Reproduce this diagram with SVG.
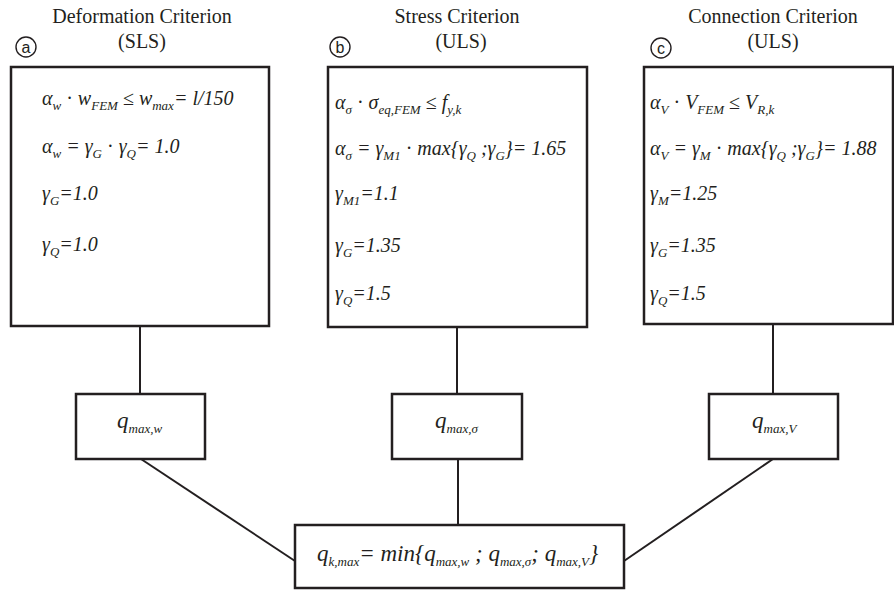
<svg xmlns="http://www.w3.org/2000/svg" width="894" height="590" viewBox="0 0 894 590">
<style>
.bg{fill:#fff}
.box{fill:#fff;stroke:#231f20;stroke-width:2.5}
.sbox{fill:#fff;stroke:#231f20;stroke-width:2.5}
.con{stroke:#231f20;stroke-width:2;fill:none}
.hdr{font-family:"Liberation Serif","Times New Roman",serif;font-size:20px;fill:#231f20;text-anchor:middle}
.eq{font-family:"Liberation Serif","Times New Roman",serif;font-size:20px;font-style:italic;fill:#231f20}
.q{font-family:"Liberation Serif","Times New Roman",serif;font-size:23px;font-style:italic;fill:#231f20}
.s{font-size:13px}
.qs{font-size:13px}
.up{font-style:normal}
.circ{fill:#fff;stroke:#231f20;stroke-width:1.4}
.cl{font-family:"Liberation Sans",Arial,sans-serif;font-size:16px;fill:#231f20;text-anchor:middle}
</style>
<rect class="bg" x="0" y="0" width="894" height="590"/>

<g id="connectors">
<line class="con" x1="140" y1="326" x2="140" y2="394"/>
<line class="con" x1="457" y1="327" x2="457" y2="394"/>
<line class="con" x1="773" y1="324" x2="773" y2="394"/>
<line class="con" x1="141" y1="459" x2="295" y2="561"/>
<line class="con" x1="458" y1="459" x2="458" y2="525"/>
<line class="con" x1="773" y1="459" x2="624" y2="561"/>
</g>

<g id="header-a">
<text class="hdr" x="142" y="23">Deformation Criterion</text>
<text class="hdr" x="142" y="48">(SLS)</text>
<circle class="circ" cx="26" cy="47" r="10"/>
<text class="cl" x="26" y="52.5">a</text>
</g>
<g id="header-b">
<text class="hdr" x="457" y="23">Stress Criterion</text>
<text class="hdr" x="461" y="48">(ULS)</text>
<circle class="circ" cx="340" cy="47" r="10"/>
<text class="cl" x="340" y="52.5">b</text>
</g>
<g id="header-c">
<text class="hdr" x="773" y="23">Connection Criterion</text>
<text class="hdr" x="773" y="48">(ULS)</text>
<circle class="circ" cx="661" cy="48" r="10"/>
<text class="cl" x="661" y="53.5">c</text>
</g>

<g id="box-a">
<rect class="box" x="11" y="67" width="258" height="259"/>
<text class="eq" x="42" y="105">α<tspan class="s" dy="5">w</tspan><tspan class="up" dy="-5"> · </tspan>w<tspan class="s" dy="5">FEM</tspan><tspan class="up" dy="-5"> ≤ </tspan>w<tspan class="s" dy="5">max</tspan><tspan dy="-5">= l/150</tspan></text>
<text class="eq" x="42" y="153">α<tspan class="s" dy="5">w</tspan><tspan dy="-5"> = γ</tspan><tspan class="s" dy="5">G</tspan><tspan class="up" dy="-5"> · </tspan>γ<tspan class="s" dy="5">Q</tspan><tspan dy="-5">= 1.0</tspan></text>
<text class="eq" x="42" y="200">γ<tspan class="s" dy="5">G</tspan><tspan dy="-5">=1.0</tspan></text>
<text class="eq" x="42" y="251">γ<tspan class="s" dy="5">Q</tspan><tspan dy="-5">=1.0</tspan></text>
</g>

<g id="box-b">
<rect class="box" x="328" y="67" width="259" height="260"/>
<text class="eq" x="335" y="109">α<tspan class="s" dy="5">σ</tspan><tspan class="up" dy="-5"> · </tspan>σ<tspan class="s" dy="5">eq,FEM</tspan><tspan class="up" dy="-5"> ≤ </tspan>f<tspan class="s" dy="5">y,k</tspan></text>
<text class="eq" x="335" y="155">α<tspan class="s" dy="5">σ</tspan><tspan dy="-5"> = γ</tspan><tspan class="s" dy="5">M1</tspan><tspan class="up" dy="-5"> · </tspan>max{γ<tspan class="s" dy="5">Q</tspan><tspan dy="-5"> ;γ</tspan><tspan class="s" dy="5">G</tspan><tspan dy="-5">}= 1.65</tspan></text>
<text class="eq" x="335" y="200">γ<tspan class="s" dy="5">M1</tspan><tspan dy="-5">=1.1</tspan></text>
<text class="eq" x="335" y="252">γ<tspan class="s" dy="5">G</tspan><tspan dy="-5">=1.35</tspan></text>
<text class="eq" x="335" y="300">γ<tspan class="s" dy="5">Q</tspan><tspan dy="-5">=1.5</tspan></text>
</g>

<g id="box-c">
<rect class="box" x="644" y="67" width="249" height="257"/>
<text class="eq" x="650" y="109">α<tspan class="s" dy="5">V</tspan><tspan class="up" dy="-5"> · </tspan>V<tspan class="s" dy="5">FEM</tspan><tspan class="up" dy="-5"> ≤ </tspan>V<tspan class="s" dy="5">R,k</tspan></text>
<text class="eq" x="650" y="155">α<tspan class="s" dy="5">V</tspan><tspan dy="-5"> = γ</tspan><tspan class="s" dy="5">M</tspan><tspan class="up" dy="-5"> · </tspan>max{γ<tspan class="s" dy="5">Q</tspan><tspan dy="-5"> ;γ</tspan><tspan class="s" dy="5">G</tspan><tspan dy="-5">}= 1.88</tspan></text>
<text class="eq" x="650" y="200">γ<tspan class="s" dy="5">M</tspan><tspan dy="-5">=1.25</tspan></text>
<text class="eq" x="650" y="252">γ<tspan class="s" dy="5">G</tspan><tspan dy="-5">=1.35</tspan></text>
<text class="eq" x="650" y="300">γ<tspan class="s" dy="5">Q</tspan><tspan dy="-5">=1.5</tspan></text>
</g>

<g id="node-qw">
<rect class="sbox" x="76" y="394" width="129" height="65"/>
<text class="q" x="117" y="428">q<tspan class="qs" dy="5">max,w</tspan></text>
</g>
<g id="node-qs">
<rect class="sbox" x="392" y="394" width="130" height="65"/>
<text class="q" x="435" y="428">q<tspan class="qs" dy="5">max,σ</tspan></text>
</g>
<g id="node-qv">
<rect class="sbox" x="709" y="394" width="129" height="65"/>
<text class="q" x="752" y="428">q<tspan class="qs" dy="5">max,V</tspan></text>
</g>

<g id="node-qk">
<rect class="sbox" x="295" y="525" width="329" height="63"/>
<text class="q" x="317" y="561">q<tspan class="qs" dy="5">k,max</tspan><tspan dy="-5">= min{q</tspan><tspan class="qs" dy="5">max,w</tspan><tspan dy="-5"> ; q</tspan><tspan class="qs" dy="5">max,σ</tspan><tspan dy="-5">; q</tspan><tspan class="qs" dy="5">max,V</tspan><tspan dy="-5">}</tspan></text>
</g>
</svg>
